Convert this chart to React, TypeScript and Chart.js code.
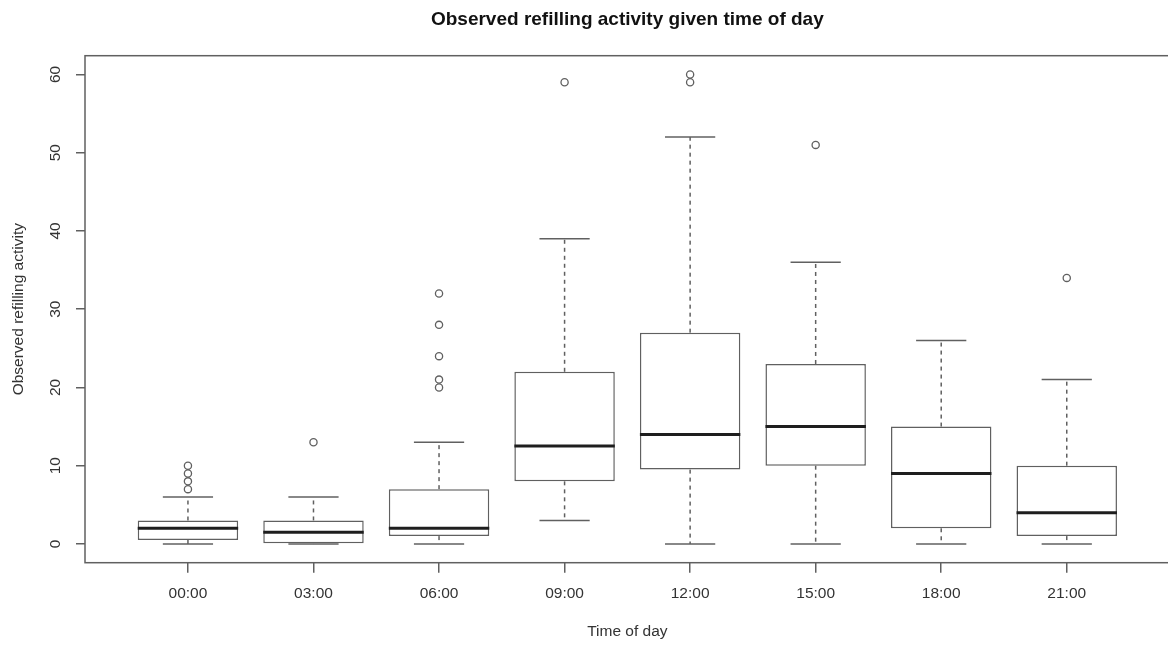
import React, { useEffect, useRef } from "react";
import { Chart, registerables } from "chart.js";

Chart.register(...registerables);

const TITLE = "Observed refilling activity given time of day";
const X_TITLE = "Time of day";
const Y_TITLE = "Observed refilling activity";

const CATEGORIES = ["00:00", "03:00", "06:00", "09:00", "12:00", "15:00", "18:00", "21:00"];
const WHISKER_LOW = [0, 0, 0, 3, 0, 0, 0, 0];
const Q1 = [0.5, 0, 1, 8, 9.5, 10, 2, 1];
const MEDIAN = [2, 1.5, 2, 12.5, 14, 15, 9, 4];
const Q3 = [3, 3, 7, 22, 27, 23, 15, 10];
const WHISKER_HIGH = [6, 6, 13, 39, 52, 36, 26, 21];
const OUTLIERS: number[][] = [[7, 8, 9, 10], [13], [20, 21, 24, 28, 32], [59], [59, 60], [51], [], [34]];
const Y_TICKS = [0, 10, 20, 30, 40, 50, 60];

const FONT = "'Liberation Sans', Arial, Helvetica, sans-serif";
const LINE = "#606060";
const TEXT = "#333333";

const N = CATEGORIES.length;
const X_MIN = 0.5 - 0.04 * N;
const X_MAX = N + 0.5 + 0.04 * N;
const Y_MIN = 0 - 0.04 * 60;
const Y_MAX = 60 + 0.04 * 60;

const boxPlugin = {
  id: "boxExtras",
  afterDatasetsDraw(chart: any) {
    const { ctx, chartArea } = chart;
    const xs = chart.scales.x;
    const ys = chart.scales.y;
    const py = (v: number) => ys.getPixelForValue(v);
    const px = (v: number) => xs.getPixelForValue(v);
    const seg = (x1: number, y1: number, x2: number, y2: number) => {
      ctx.beginPath();
      ctx.moveTo(x1, y1);
      ctx.lineTo(x2, y2);
      ctx.stroke();
    };
    ctx.save();
    CATEGORIES.forEach((_, i) => {
      const c = i + 1;
      const cx = px(c);
      ctx.strokeStyle = LINE;
      ctx.lineWidth = 1.5;
      ctx.setLineDash([4, 4]);
      seg(cx, py(Q3[i]), cx, py(WHISKER_HIGH[i]));
      seg(cx, py(Q1[i]), cx, py(WHISKER_LOW[i]));
      ctx.setLineDash([]);
      seg(px(c - 0.2), py(WHISKER_HIGH[i]), px(c + 0.2), py(WHISKER_HIGH[i]));
      seg(px(c - 0.2), py(WHISKER_LOW[i]), px(c + 0.2), py(WHISKER_LOW[i]));
      ctx.strokeStyle = "#1e1e1e";
      ctx.lineWidth = 3;
      seg(px(c - 0.4), py(MEDIAN[i]), px(c + 0.4), py(MEDIAN[i]));
    });
    // frame
    ctx.strokeStyle = LINE;
    ctx.lineWidth = 1.5;
    ctx.strokeRect(chartArea.left, chartArea.top, chartArea.right - chartArea.left, chartArea.bottom - chartArea.top);
    // y tick labels (rotated, as in R)
    ctx.fillStyle = TEXT;
    ctx.font = `15.5px ${FONT}`;
    ctx.textAlign = "center";
    ctx.textBaseline = "middle";
    Y_TICKS.forEach((v) => {
      ctx.save();
      ctx.translate(chartArea.left - 29.5, py(v));
      ctx.rotate(-Math.PI / 2);
      ctx.fillText(String(v), 0, 0);
      ctx.restore();
    });
    // title
    ctx.fillStyle = "#111";
    ctx.font = `bold 19px ${FONT}`;
    ctx.fillText(TITLE, (chartArea.left + chartArea.right) / 2, 19.5);
    ctx.restore();
  },
};

export default function App() {
  const ref = useRef<HTMLCanvasElement | null>(null);
  useEffect(() => {
    document.documentElement.style.overflow = "hidden";
    document.body.style.margin = "0";
    document.body.style.overflow = "hidden";
    const canvas = ref.current!;
    const chart = new Chart(canvas, {
      type: "bar",
      data: {
        datasets: [
          {
            type: "bar",
            label: "box",
            data: CATEGORIES.map((_, i) => ({ x: i + 1, y: [Q1[i], Q3[i]] })) as any,
            backgroundColor: "#ffffff",
            borderColor: LINE,
            borderWidth: 1.5,
            borderSkipped: false,
            barPercentage: 1,
            categoryPercentage: 0.8,
          },
          {
            type: "scatter",
            label: "outliers",
            data: OUTLIERS.flatMap((vals, i) => vals.map((v) => ({ x: i + 1, y: v }))) as any,
            pointStyle: "circle",
            pointRadius: 3.6,
            pointBorderWidth: 1.3,
            borderColor: LINE,
            backgroundColor: "rgba(0,0,0,0)",
            pointBackgroundColor: "rgba(0,0,0,0)",
            pointBorderColor: LINE,
          } as any,
        ],
      },
      options: {
        responsive: false,
        animation: false,
        devicePixelRatio: 1,
        layout: { padding: { left: 0, top: 55.7, right: 2, bottom: 0 } },
        plugins: {
          legend: { display: false },
          tooltip: { enabled: false },
          title: { display: false },
        },
        scales: {
          x: {
            type: "linear",
            min: X_MIN,
            max: X_MAX,
            offset: false,
            afterBuildTicks: (s: any) => {
              s.ticks = CATEGORIES.map((_, i) => ({ value: i + 1 }));
            },
            afterFit: (s: any) => {
              s.height = 646 - 562.7;
            },
            ticks: {
              autoSkip: false,
              maxRotation: 0,
              minRotation: 0,
              padding: 12,
              color: TEXT,
              font: { family: FONT, size: 15.5 },
              callback: (v: any) => CATEGORIES[Math.round(Number(v)) - 1] ?? "",
            },
            grid: {
              offset: false,
              drawOnChartArea: false,
              drawTicks: true,
              tickLength: 10,
              color: LINE,
              lineWidth: 1.5,
            },
            border: { display: false },
            title: {
              display: true,
              text: X_TITLE,
              color: TEXT,
              font: { family: FONT, size: 15.5 },
              padding: { top: 0, bottom: 5 },
            },
          },
          y: {
            type: "linear",
            min: Y_MIN,
            max: Y_MAX,
            afterBuildTicks: (s: any) => {
              s.ticks = Y_TICKS.map((v) => ({ value: v }));
            },
            afterFit: (s: any) => {
              s.width = 85;
            },
            ticks: { display: false },
            grid: {
              drawOnChartArea: false,
              drawTicks: true,
              tickLength: 9,
              color: LINE,
              lineWidth: 1.5,
            },
            border: { display: false },
            title: {
              display: true,
              text: Y_TITLE,
              color: TEXT,
              font: { family: FONT, size: 15.5 },
              padding: { top: 9.5, bottom: 0 },
            },
          },
        },
      } as any,
      plugins: [boxPlugin],
    });
    return () => chart.destroy();
  }, []);
  return (
    <canvas
      ref={ref}
      width={1175}
      height={646}
      style={{ position: "fixed", left: 0, top: 0, display: "block", width: 1175, height: 646 }}
    />
  );
}
